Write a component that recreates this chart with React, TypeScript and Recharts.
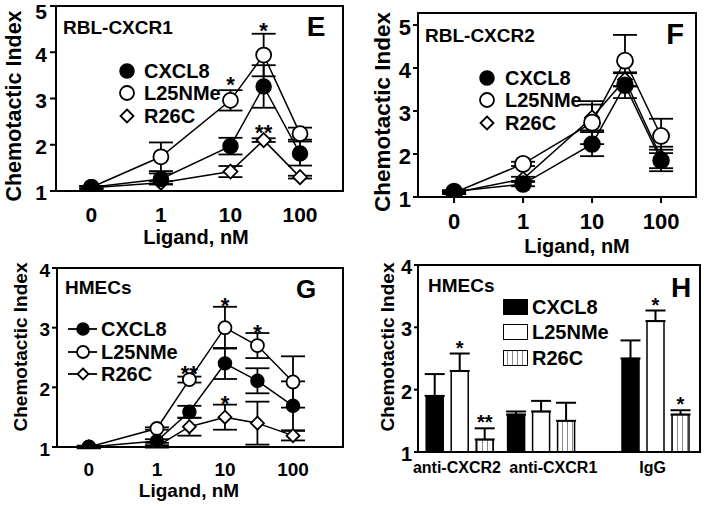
import { ComposedChart, Line, Bar, Scatter, XAxis, YAxis, ErrorBar, ReferenceArea, LabelList } from 'recharts';

const FONT = '"Liberation Sans", Arial, Helvetica, sans-serif';

// dose axis: the "0 nM" control is plotted at 0.1 on the log axis
const doseTicks = [0.1, 1, 10, 100];
const doseTickLabels = ['0', '1', '10', '100'];
const seriesNames = ['CXCL8', 'L25NMe', 'R26C'];

// E: RBL-CXCR1
const dosesE = [0.1, 1, 10, 30, 100];
const eCxcl8 = [1.08, 1.26, 1.97, 3.26, 1.81];
const eCxcl8Err = [0.03, 0.12, 0.18, 0.46, 0.26];
const eL25 = [1.08, 1.74, 2.96, 3.94, 2.24];
const eL25Err = [0.03, 0.31, 0.22, 0.46, 0.13];
const eR26 = [1.07, 1.18, 1.42, 2.1, 1.3];
const eR26Err = [0.02, 0.03, 0.12, 0.04, 0.03];
const eStarDose = [10, 30, 30];
const eStarY = [3.41, 4.57, 2.37];
const eStarText = ['*', '*', '**'];

// F: RBL-CXCR2
const dosesF = [0.1, 1, 10, 30, 100];
const fCxcl8 = [1.13, 1.3, 2.23, 3.6, 1.85];
const fCxcl8Err = [0.03, 0.05, 0.28, 0.3, 0.25];
const fL25 = [1.1, 1.77, 2.73, 4.17, 2.42];
const fL25Err = [0.03, 0.05, 0.5, 0.6, 0.4];
const fR26 = [1.1, 1.42, 2.85, 3.73, 1.92];
const fR26Err = [0.03, 0.05, 0.3, 0.15, 0.25];

// G: HMECs dose response
const dosesG = [0.1, 1, 3, 10, 30, 100];
const gCxcl8 = [1.0, 1.1, 1.59, 2.4, 2.11, 1.69];
const gCxcl8Err = [0.02, 0.03, 0.1, 0.26, 0.21, 0.41];
const gL25 = [1.0, 1.31, 2.13, 3.0, 2.7, 2.09];
const gL25Err = [0.02, 0.02, 0.05, 0.35, 0.21, 0.43];
const gR26 = [1.0, 1.01, 1.34, 1.5, 1.4, 1.19];
const gR26Err = [0.02, 0.02, 0.15, 0.21, 0.36, 0.08];
const gStarDose = [3, 10, 30, 10];
const gStarY = [2.32, 3.45, 3.0, 1.82];
const gStarText = ['**', '*', '*', '*'];

// H: HMECs, antibody blocking
const antibodies = ['anti-CXCR2', 'anti-CXCR1', 'IgG'];
const hCxcl8 = [1.9, 1.6, 2.5];
const hCxcl8Err = [0.35, 0.05, 0.29];
const hL25 = [2.3, 1.65, 3.1];
const hL25Err = [0.28, 0.17, 0.17];
const hR26 = [1.2, 1.5, 1.6];
const hR26Err = [0.18, 0.29, 0.07];
const hL25Star = ['*', '', '*'];
const hR26Star = ['**', '', '*'];

const diamondDot = (size: number) => (p: any) => {
  const { cx, cy, index } = p;
  return (
    <path
      key={`dm-${index}`}
      d={`M${cx},${cy - size}L${cx + size},${cy}L${cx},${cy + size}L${cx - size},${cy}Z`}
      fill="#fff"
      stroke="#000"
      strokeWidth={1.8}
    />
  );
};

const starShape = (size: number) => (p: any) => (
  <text x={p.cx} y={p.cy} dy="0.57em" textAnchor="middle" fontSize={size} fontWeight="bold" fontFamily={FONT} fill="#000">
    {p.payload.t}
  </text>
);

// y tick labels sit a little below their tick marks, and never above the panel edge
const yTick = (size: number, minY: number) => (p: any) => (
  <text
    x={p.x} y={Math.max(p.y + 2, minY)} dy="0.355em" textAnchor="end"
    fontSize={size} fontWeight="bold" fontFamily={FONT} fill="#000"
  >
    {p.payload.value}
  </text>
);

function DoseChart(props: any) {
  const {
    left, top, width, height, margin, doses, cxcl8, cxcl8Err, l25, l25Err, r26, r26Err,
    starDose, starY, starText, xDomain, yMax, yTicks, tickFont, yTickSize, yTickMargin,
    xTickSize, xTickMargin, r, dr, starFont,
  } = props;
  const rows = doses.map((d: number, i: number) => ({
    dose: d,
    cx: cxcl8[i], cxErr: cxcl8Err[i],
    l25: l25[i], l25Err: l25Err[i],
    r26: r26[i], r26Err: r26Err[i],
  }));
  const stars = (starDose || []).map((d: number, i: number) => ({ dose: d, y: starY[i], t: starText[i] }));
  const tick = { fontSize: tickFont, fontWeight: 'bold', fill: '#000', fontFamily: FONT };
  const err = { stroke: '#000', strokeWidth: 1.8, width: 12, direction: 'y' as const };
  return (
    <div style={{ position: 'absolute', left, top }}>
      <ComposedChart width={width} height={height} data={rows} margin={margin}>
        <ReferenceArea y1={1} y2={yMax} fill="none" stroke="#000" strokeWidth={2} ifOverflow="visible" />
        <XAxis
          dataKey="dose" type="number" scale="log" domain={xDomain} allowDataOverflow
          ticks={doseTicks} tickFormatter={(v: number) => doseTickLabels[doseTicks.indexOf(v)]}
          height={30} tick={tick} axisLine={{ stroke: '#000', strokeWidth: 2 }}
          tickLine={xTickSize > 0 ? { stroke: '#000', strokeWidth: 2 } : false}
          tickSize={xTickSize} tickMargin={xTickMargin} interval={0}
        />
        <YAxis
          type="number" domain={[1, yMax]} allowDataOverflow ticks={yTicks} width={40}
          tick={yTick(tickFont, tickFont * 0.5 + 1)} axisLine={{ stroke: '#000', strokeWidth: 2 }}
          tickLine={{ stroke: '#000', strokeWidth: 2 }} tickSize={yTickSize} tickMargin={yTickMargin} interval={0}
        />
        <Line dataKey="r26" stroke="#000" strokeWidth={1.5} dot={diamondDot(dr)} activeDot={false} isAnimationActive={false}>
          <ErrorBar dataKey="r26Err" {...err} />
        </Line>
        <Line dataKey="l25" stroke="#000" strokeWidth={1.5} dot={{ r, fill: '#fff', stroke: '#000', strokeWidth: 1.8 }} activeDot={false} isAnimationActive={false}>
          <ErrorBar dataKey="l25Err" {...err} />
        </Line>
        <Line dataKey="cx" stroke="#000" strokeWidth={1.5} dot={{ r, fill: '#000', stroke: '#000', strokeWidth: 1.5 }} activeDot={false} isAnimationActive={false}>
          <ErrorBar dataKey="cxErr" {...err} />
        </Line>
        {stars.length > 0 && (
          <Scatter data={stars} dataKey="y" shape={starShape(starFont)} isAnimationActive={false} />
        )}
      </ComposedChart>
    </div>
  );
}

const H_PLOT_HEIGHT = 187;
const H_PX_PER_UNIT = H_PLOT_HEIGHT / 3;

const barStar = (errs: number[]) => (p: any) => {
  const vb = p.viewBox || p;
  const value = p.value;
  if (!value) return null;
  const idx = p.index ?? 0;
  const topY = vb.y - errs[idx] * H_PX_PER_UNIT;
  return (
    <text key={`st-${idx}`} x={vb.x + vb.width / 2} y={topY + 1} textAnchor="middle" fontSize={20} fontWeight="bold" fontFamily={FONT} fill="#000">
      {value}
    </text>
  );
};

// category labels are not exactly centred under their groups in the original
const labelShift = [-3, 12, -3];

const groupTick = (p: any) => (
  <text
    x={p.x + labelShift[p.index]} y={p.y} dy="0.71em" textAnchor="middle"
    fontSize={16} fontWeight="bold" fontFamily={FONT} fill="#000"
  >
    {antibodies[p.index]}
  </text>
);

function BlockingChart() {
  const groupX = [0.52, 1.53, 2.95];
  const rows = antibodies.map((name, i) => ({
    pos: groupX[i],
    name,
    cx: hCxcl8[i], cxErr: [0, hCxcl8Err[i]],
    l25: hL25[i], l25Err: [0, hL25Err[i]], l25Star: hL25Star[i],
    r26: hR26[i], r26Err: [0, hR26Err[i]], r26Star: hR26Star[i],
  }));
  const err = { stroke: '#000', strokeWidth: 2, width: 10, direction: 'y' as const };
  return (
    <div style={{ position: 'absolute', left: 350, top: 250 }}>
      <ComposedChart width={354} height={256} data={rows} margin={{ top: 15, right: 4, bottom: 24, left: 28 }} barGap={8}>
        <defs>
          <pattern id="vhatch" width="5" height="10" patternUnits="userSpaceOnUse">
            <rect width="5" height="10" fill="#fff" />
            <line x1="2.5" y1="0" x2="2.5" y2="10" stroke="#8a8a8a" strokeWidth="1" />
          </pattern>
        </defs>
        <XAxis
          dataKey="pos" type="number" domain={[0, 3.5]} allowDataOverflow ticks={groupX}
          height={30} interval={0} tick={groupTick}
          axisLine={{ stroke: '#000', strokeWidth: 2 }} tickLine={false} tickSize={0} tickMargin={10}
        />
        <YAxis
          type="number" domain={[1, 4]} ticks={[1, 2, 3, 4]} allowDataOverflow width={40} interval={0}
          tick={yTick(20, 11)}
          axisLine={{ stroke: '#000', strokeWidth: 2 }} tickLine={{ stroke: '#000', strokeWidth: 2 }}
          tickSize={4} tickMargin={2}
        />
        <Bar dataKey="cx" barSize={17} fill="#000" stroke="#000" strokeWidth={1.5} isAnimationActive={false}>
          <ErrorBar dataKey="cxErr" {...err} />
        </Bar>
        <Bar dataKey="l25" barSize={17} fill="#fff" stroke="#000" strokeWidth={1.5} isAnimationActive={false}>
          <ErrorBar dataKey="l25Err" {...err} />
          <LabelList dataKey="l25Star" content={barStar(hL25Err)} />
        </Bar>
        <Bar dataKey="r26" barSize={17} fill="url(#vhatch)" stroke="#000" strokeWidth={1.5} isAnimationActive={false}>
          <ErrorBar dataKey="r26Err" {...err} />
          <LabelList dataKey="r26Star" content={barStar(hR26Err)} />
        </Bar>
        <ReferenceArea y1={1} y2={4} fill="none" stroke="#000" strokeWidth={2} ifOverflow="visible" />
      </ComposedChart>
    </div>
  );
}

const Txt = ({ x, y, size, center, children }: any) => (
  <div
    style={{
      position: 'absolute', left: x, top: y,
      transform: center ? 'translate(-50%, -50%)' : 'translateY(-50%)',
      fontFamily: FONT, fontWeight: 'bold', fontSize: size, lineHeight: 1, whiteSpace: 'nowrap', color: '#000',
    }}
  >
    {children}
  </div>
);

const VTxt = ({ x, y, size, children }: any) => (
  <div
    style={{
      position: 'absolute', left: x, top: y, transform: 'translate(-50%, -50%) rotate(-90deg)',
      fontFamily: FONT, fontWeight: 'bold', fontSize: size, lineHeight: 1, whiteSpace: 'nowrap', color: '#000',
    }}
  >
    {children}
  </div>
);

const Marker = ({ x, y, kind, r, withLine }: any) => (
  <svg style={{ position: 'absolute', left: x - 20, top: y - 10 }} width={40} height={20}>
    {withLine && <line x1={5} y1={10} x2={34} y2={10} stroke="#000" strokeWidth={1.8} />}
    {kind === 'filled' && <circle cx={20} cy={10} r={r} fill="#000" stroke="#000" strokeWidth={1.5} />}
    {kind === 'open' && <circle cx={20} cy={10} r={r} fill="#fff" stroke="#000" strokeWidth={1.8} />}
    {kind === 'diamond' && (
      <path d={`M20,${10 - r}L${20 + r},10L20,${10 + r}L${20 - r},10Z`} fill="#fff" stroke="#000" strokeWidth={1.8} />
    )}
  </svg>
);

const markerKinds = ['filled', 'open', 'diamond'];

function LineLegend({ mx, tx, rows, size, r, withLine }: any) {
  return (
    <>
      {seriesNames.map((name, i) => (
        <div key={name}>
          <Marker x={mx} y={rows[i]} kind={markerKinds[i]} r={markerKinds[i] === 'diamond' ? r - 0.5 : r} withLine={withLine} />
          <Txt x={tx} y={rows[i]} size={size}>{name}</Txt>
        </div>
      ))}
    </>
  );
}

const barSwatches = [
  { background: '#000' },
  { background: '#fff' },
  { background: 'repeating-linear-gradient(90deg, #fff 0px, #fff 3px, #8a8a8a 3px, #8a8a8a 4px, #fff 4px, #fff 5px)' },
];

export default function App() {
  return (
    <div style={{ position: 'absolute', left: 0, top: 0, width: 704, height: 506, background: '#fff', overflow: 'hidden' }}>
      <DoseChart
        left={0} top={0} width={350} height={250} margin={{ top: 6, right: 7, bottom: 29, left: 16 }}
        doses={dosesE} cxcl8={eCxcl8} cxcl8Err={eCxcl8Err} l25={eL25} l25Err={eL25Err} r26={eR26} r26Err={eR26Err}
        starDose={eStarDose} starY={eStarY} starText={eStarText}
        xDomain={[0.031, 415]} yMax={5} yTicks={[1, 2, 3, 4, 5]} tickFont={21}
        yTickSize={6} yTickMargin={3} xTickSize={0} xTickMargin={16} r={7.5} dr={7} starFont={22}
      />
      <DoseChart
        left={350} top={0} width={354} height={250} margin={{ top: 13, right: 8, bottom: 23, left: 28 }}
        doses={dosesF} cxcl8={fCxcl8} cxcl8Err={fCxcl8Err} l25={fL25} l25Err={fL25Err} r26={fR26} r26Err={fR26Err}
        xDomain={[0.03, 321]} yMax={5.28} yTicks={[1, 2, 3, 4, 5]} tickFont={22}
        yTickSize={5} yTickMargin={2} xTickSize={6} xTickMargin={10} r={8} dr={7} starFont={22}
      />
      <DoseChart
        left={0} top={250} width={350} height={256} margin={{ top: 18, right: 7, bottom: 29, left: 17 }}
        doses={dosesG} cxcl8={gCxcl8} cxcl8Err={gCxcl8Err} l25={gL25} l25Err={gL25Err} r26={gR26} r26Err={gR26Err}
        starDose={gStarDose} starY={gStarY} starText={gStarText}
        xDomain={[0.034, 543]} yMax={4} yTicks={[1, 2, 3, 4]} tickFont={19}
        yTickSize={5} yTickMargin={2} xTickSize={0} xTickMargin={16} r={6.5} dr={6.5} starFont={22}
      />
      <BlockingChart />

      {/* E */}
      <Txt x={63} y={27} size={19}>RBL-CXCR1</Txt>
      <Txt x={316} y={27} size={28} center>E</Txt>
      <LineLegend mx={127} tx={144} rows={[71, 93, 116]} size={20} r={7} />
      <VTxt x={15} y={106} size={21.5}>Chemotactic Index</VTxt>
      <Txt x={196} y={237} size={20} center>Ligand, nM</Txt>

      {/* F */}
      <Txt x={425} y={35} size={19}>RBL-CXCR2</Txt>
      <Txt x={675} y={34} size={29} center>F</Txt>
      <LineLegend mx={487} tx={505} rows={[78, 100, 123]} size={20} r={7} />
      <VTxt x={383} y={112} size={22.5}>Chemotactic Index</VTxt>
      <Txt x={577} y={246} size={20} center>Ligand, nM</Txt>

      {/* G */}
      <Txt x={65} y={287} size={19}>HMECs</Txt>
      <Txt x={306} y={289} size={26} center>G</Txt>
      <LineLegend mx={83} tx={101} rows={[329, 352, 374]} size={20} r={6} withLine />
      <VTxt x={20} y={347} size={19}>Chemotactic Index</VTxt>
      <Txt x={189} y={490} size={19} center>Ligand, nM</Txt>

      {/* H */}
      <Txt x={428} y={285} size={19}>HMECs</Txt>
      <Txt x={681} y={288} size={28} center>H</Txt>
      {seriesNames.map((name, i) => (
        <div key={name}>
          <div
            style={{
              position: 'absolute', left: 503, top: [307, 332, 358][i] - 8, width: 25, height: 16,
              boxSizing: 'border-box', border: '1.5px solid #000', ...barSwatches[i],
            }}
          />
          <Txt x={532} y={[307, 332, 358][i]} size={20}>{name}</Txt>
        </div>
      ))}
      <VTxt x={387} y={347} size={19}>Chemotactic Index</VTxt>
    </div>
  );
}
